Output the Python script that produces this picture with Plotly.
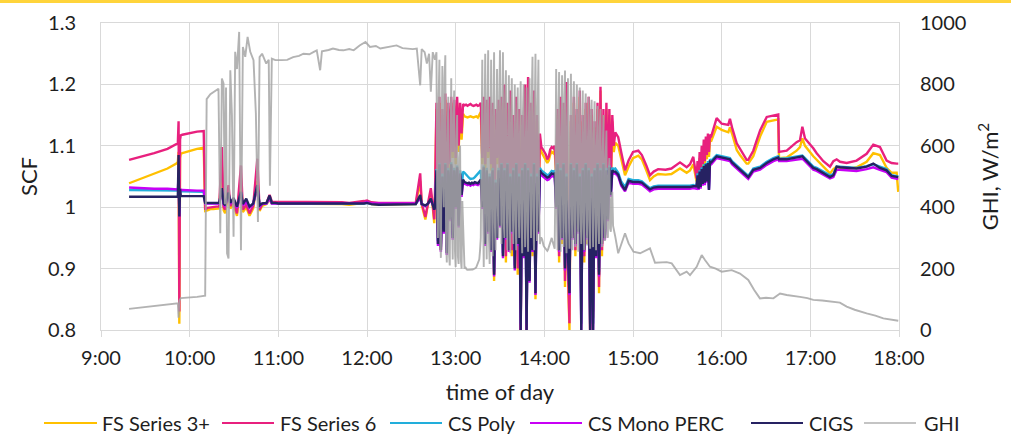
import plotly.graph_objects as go

# ---------------- axis labels ----------------
tick_minutes = [540, 600, 660, 720, 780, 840, 900, 960, 1020, 1080]
tick_labels = ["9:00", "10:00", "11:00", "12:00", "13:00", "14:00", "15:00", "16:00", "17:00", "18:00"]
scf_ticks = [0.8, 0.9, 1.0, 1.1, 1.2, 1.3]
scf_tick_labels = ["0.8", "0.9", "1", "1.1", "1.2", "1.3"]
ghi_ticks = [0, 200, 400, 600, 800, 1000]

# ---------------- SCF sample times (minutes after midnight) ----------------
scf_min_a = [559, 567, 576, 585, 591, 592, 592.5, 593, 593.5, 594, 595, 600, 605, 609.5, 610.5]
scf_min_b = [612, 614, 616, 618, 620, 621.8, 623, 624, 626.3, 627.5, 629.7, 632, 634.7, 636, 638.3,
             640.5, 643, 645.8, 647.3, 649, 652, 654.1, 655.6, 658, 660]
scf_min_c = [663, 668, 673, 678, 683, 688, 693, 698, 703, 708, 713, 718, 720, 723, 728, 733, 738, 743, 748, 753]
scf_min_d = [756, 757, 759.5, 761, 763.2, 764.5, 765.5]
scf_min_e = list(range(766, 888))  # one reading per minute through the cloudy period
scf_min_f = [888, 890, 892, 894.6, 897, 900, 903.6, 906, 909, 911.5, 914, 917, 922, 926, 931.8, 936.3, 938.6,
             940.8, 943, 943.7, 944.4, 945.1, 945.8, 946.5, 947.2, 947.9, 948.6, 949.3, 950, 950.7, 951.4, 952.1,
             953, 956.6, 960, 964.5, 965.6, 967, 970.2, 972.4, 976.9, 978, 981.4, 983.7, 986, 990.5, 995, 998.3,
             998.8, 1004, 1010.7, 1013, 1014.6, 1016.4, 1022, 1024.3, 1028.8, 1033.3, 1035.6, 1037.8, 1040.1,
             1044.6, 1051.3, 1058.1, 1062.6, 1067.1, 1071.6, 1075, 1078.4, 1079.5]
scf_minutes = scf_min_a + scf_min_b + scf_min_c + scf_min_d + scf_min_e + scf_min_f

# ---------------- FS Series 3+ ----------------
fs3 = [
    1.039, 1.046, 1.054, 1.063, 1.071, 1.074, 1.090, 0.810, 1.080, 1.087, 1.088, 1.092, 1.095, 1.097, 0.994,
    0.995, 0.997, 0.997, 0.998, 0.998, 1.066, 0.995, 0.990, 1.025, 0.998, 1.005, 0.986, 1.047, 0.992, 1.000,
    0.986, 0.998, 1.043, 0.994, 1.002, 1.005, 1.012, 1.006, 1.006, 1.006,
    1.006, 1.005, 1.006, 1.005, 1.006, 1.005, 1.006, 1.005, 1.005, 1.004, 1.005, 1.007, 1.008, 1.005, 1.004,
    1.004, 1.004, 1.005, 1.005, 1.005,
    1.043, 1.004, 0.980, 1.002, 1.022, 1.000, 0.974,
    1.01, 1.16, 0.95, 1.17, 0.93, 1.15, 0.99, 1.175, 0.935, 1.16,
    1.06, 1.17, 1.08, 1.165, 1.07, 1.17, 1.09, 1.16, 1.11, 1.152,
    1.148, 1.147, 1.146, 1.147, 1.148, 1.147, 1.146, 1.147, 1.148, 1.146, 1.150, 1.155,
    1.07, 1.17, 1.06, 1.165, 1.08, 1.17, 1.06, 1.16, 0.88, 1.15, 1.07, 1.165,
    1.04, 1.17, 0.95, 1.19, 0.91, 1.16, 0.99, 1.18, 0.92, 1.14, 0.96, 1.17, 0.89, 1.15,
    0.80, 1.14, 0.94, 1.19, 0.80, 1.20, 0.885, 1.16, 0.92, 1.18, 0.85, 1.14, 0.98, 1.11,
    1.090, 1.086, 1.082, 1.078, 1.072, 1.076, 1.086, 1.090, 1.088, 1.092,
    1.05, 1.15, 0.91, 1.17, 0.94, 1.16, 0.87, 1.19, 0.89, 0.80, 1.14, 0.95, 1.17, 0.92, 1.15, 0.97, 1.18, 0.83,
    1.14, 0.91, 1.16, 0.94, 1.17, 0.80, 1.15, 0.82, 1.13, 0.94, 1.16, 0.86, 1.19, 0.92, 1.15, 0.95, 1.16, 0.99,
    1.15, 1.03, 1.14, 1.09,
    1.105, 1.100, 1.078, 1.052, 1.066, 1.080, 1.084, 1.078, 1.060, 1.044,
    1.050, 1.054, 1.053, 1.054, 1.063, 1.056, 1.060, 1.070, 1.042, 1.065,
    1.045, 1.080, 1.052, 1.090, 1.060, 1.100, 1.068, 1.105, 1.078, 1.110,
    1.082, 1.108, 1.108, 1.131, 1.126, 1.122, 1.130, 1.120, 1.093, 1.085,
    1.071, 1.071, 1.083, 1.098, 1.115, 1.139, 1.141, 1.143, 1.080, 1.081,
    1.092, 1.098, 1.112, 1.100, 1.083, 1.077, 1.066, 1.055, 1.062, 1.066,
    1.063, 1.062, 1.065, 1.074, 1.088, 1.085, 1.064, 1.056, 1.056, 1.025,
]

# ---------------- FS Series 6 ----------------
fs6 = [
    1.077, 1.082, 1.088, 1.095, 1.102, 1.104, 1.140, 0.830, 1.110, 1.117, 1.118, 1.121, 1.123, 1.124, 0.996,
    0.999, 1.000, 1.000, 1.001, 1.001, 1.098, 1.000, 0.996, 1.036, 1.002, 1.010, 0.990, 1.068, 0.996, 1.004,
    0.990, 1.002, 1.079, 0.996, 1.005, 1.007, 1.020, 1.009, 1.009, 1.009,
    1.009, 1.008, 1.009, 1.008, 1.009, 1.008, 1.009, 1.008, 1.008, 1.007, 1.008, 1.010, 1.011, 1.008, 1.007,
    1.007, 1.006, 1.007, 1.007, 1.007,
    1.055, 1.007, 0.984, 1.005, 1.031, 1.004, 0.980,
    1.02, 1.17, 0.96, 1.18, 0.94, 1.16, 1.00, 1.185, 0.95, 1.17,
    1.07, 1.18, 1.09, 1.175, 1.08, 1.18, 1.10, 1.17, 1.12, 1.168,
    1.166, 1.167, 1.165, 1.166, 1.168, 1.166, 1.165, 1.166, 1.167, 1.165, 1.166, 1.17,
    1.08, 1.18, 1.07, 1.175, 1.09, 1.18, 1.07, 1.17, 0.89, 1.16, 1.08, 1.175,
    1.05, 1.18, 0.96, 1.20, 0.92, 1.17, 1.00, 1.19, 0.93, 1.15, 0.97, 1.18, 0.90, 1.16,
    0.80, 1.15, 0.95, 1.20, 0.80, 1.212, 0.897, 1.17, 0.93, 1.19, 0.86, 1.15, 0.99, 1.12,
    1.098, 1.094, 1.090, 1.086, 1.078, 1.082, 1.094, 1.098, 1.096, 1.10,
    1.06, 1.16, 0.92, 1.18, 0.95, 1.17, 0.88, 1.204, 0.90, 0.811, 1.15, 0.96, 1.18, 0.93, 1.16, 0.98, 1.19, 0.84,
    1.15, 0.92, 1.17, 0.95, 1.18, 0.80, 1.16, 0.83, 1.14, 0.95, 1.17, 0.87, 1.196, 0.93, 1.16, 0.96, 1.17, 1.00,
    1.16, 1.04, 1.15, 1.10,
    1.122, 1.114, 1.090, 1.060, 1.076, 1.090, 1.092, 1.085, 1.068, 1.052,
    1.058, 1.062, 1.061, 1.063, 1.073, 1.065, 1.070, 1.082, 1.047, 1.075,
    1.050, 1.090, 1.060, 1.100, 1.070, 1.110, 1.075, 1.115, 1.085, 1.120,
    1.090, 1.118, 1.116, 1.145, 1.136, 1.134, 1.144, 1.130, 1.104, 1.095,
    1.077, 1.077, 1.092, 1.109, 1.125, 1.147, 1.150, 1.151, 1.090, 1.092,
    1.106, 1.109, 1.131, 1.112, 1.096, 1.088, 1.075, 1.066, 1.075, 1.078,
    1.074, 1.072, 1.076, 1.087, 1.102, 1.098, 1.076, 1.072, 1.071, 1.071,
]

# ---------------- CS Poly ----------------
cs_poly = [
    1.028, 1.028, 1.027, 1.027, 1.027, 1.027, 1.040, 0.990, 1.027, 1.026, 1.026, 1.026, 1.026, 1.025, 1.006,
    1.006, 1.006, 1.006, 1.006, 1.006, 1.028, 1.005, 1.002, 1.022, 1.006, 1.012, 1.000, 1.024, 1.004, 1.010,
    1.000, 1.005, 1.034, 1.002, 1.005, 1.006, 1.015, 1.006, 1.006, 1.006,
    1.006, 1.006, 1.006, 1.006, 1.006, 1.005, 1.006, 1.005, 1.005, 1.005, 1.005, 1.006, 1.007, 1.005, 1.005,
    1.005, 1.004, 1.005, 1.005, 1.005,
    1.016, 1.005, 1.002, 1.005, 1.012, 1.005, 0.998,
    1.00, 1.062, 0.945, 1.072, 0.935, 1.055, 0.965, 1.072, 0.93, 1.064,
    0.985, 1.073, 0.955, 1.064, 1.005, 1.068, 0.975, 1.06, 1.03, 1.058,
    1.056, 1.053, 1.050, 1.048, 1.046, 1.046, 1.047, 1.049, 1.052, 1.055, 1.058, 1.060,
    1.005, 1.068, 0.945, 1.064, 0.965, 1.055, 0.935, 1.064, 0.895, 1.045, 0.955, 1.064,
    0.975, 1.072, 0.925, 1.064, 0.955, 1.072, 0.935, 1.055, 0.965, 1.064, 0.905, 1.072, 0.945, 1.055,
    0.81, 1.064, 0.925, 1.072, 0.81, 1.064, 0.885, 1.055, 0.935, 1.072, 0.865, 1.055, 0.965, 1.064,
    1.060, 1.058, 1.056, 1.054, 1.052, 1.053, 1.056, 1.059, 1.058, 1.059,
    1.005, 1.072, 0.935, 1.064, 0.955, 1.072, 0.905, 1.055, 0.925, 0.865, 1.072, 0.955, 1.064, 0.945, 1.072,
    0.965, 1.055, 0.81, 1.064, 0.935, 1.072, 0.955, 1.064, 0.81, 1.055, 0.81, 1.064, 0.925, 1.072, 0.895,
    1.064, 0.945, 1.072, 0.955, 1.064, 0.985, 1.068, 1.025, 1.064, 1.062,
    1.063, 1.056, 1.042, 1.033, 1.046, 1.044, 1.044, 1.042, 1.036, 1.031,
    1.034, 1.035, 1.035, 1.035, 1.035, 1.034, 1.035, 1.036, 1.034, 1.055,
    1.032, 1.060, 1.035, 1.065, 1.040, 1.070, 1.042, 1.072, 1.045, 1.075,
    1.030, 1.078, 1.076, 1.085, 1.083, 1.081, 1.080, 1.075, 1.068, 1.062,
    1.052, 1.051, 1.063, 1.064, 1.066, 1.074, 1.080, 1.083, 1.079, 1.080,
    1.083, 1.083, 1.084, 1.080, 1.066, 1.064, 1.058, 1.052, 1.054, 1.066,
    1.066, 1.065, 1.064, 1.067, 1.070, 1.066, 1.062, 1.052, 1.050, 1.050,
]

# ---------------- CS Mono PERC ----------------
cs_mono = [
    1.032, 1.031, 1.030, 1.030, 1.029, 1.029, 1.050, 0.985, 1.030, 1.028, 1.028, 1.027, 1.027, 1.027, 1.006,
    1.006, 1.006, 1.006, 1.006, 1.006, 1.026, 1.004, 1.001, 1.020, 1.006, 1.011, 0.999, 1.022, 1.003, 1.009,
    0.999, 1.005, 1.032, 1.001, 1.005, 1.006, 1.014, 1.006, 1.006, 1.006,
    1.007, 1.007, 1.007, 1.007, 1.007, 1.006, 1.007, 1.006, 1.006, 1.006, 1.006, 1.007, 1.008, 1.006, 1.006,
    1.006, 1.005, 1.006, 1.006, 1.006,
    1.015, 1.005, 1.002, 1.005, 1.011, 1.005, 0.998,
    0.997, 1.057, 0.937, 1.067, 0.927, 1.047, 0.957, 1.067, 0.922, 1.057,
    0.977, 1.067, 0.947, 1.057, 0.997, 1.062, 0.967, 1.052, 1.017, 1.042,
    1.038, 1.037, 1.036, 1.037, 1.035, 1.037, 1.036, 1.038, 1.037, 1.036, 1.039, 1.042,
    0.997, 1.062, 0.937, 1.057, 0.957, 1.047, 0.927, 1.057, 0.887, 1.037, 0.947, 1.057,
    0.967, 1.067, 0.917, 1.057, 0.947, 1.067, 0.927, 1.047, 0.957, 1.057, 0.897, 1.067, 0.937, 1.047,
    0.80, 1.057, 0.917, 1.067, 0.80, 1.057, 0.877, 1.047, 0.927, 1.067, 0.857, 1.047, 0.957, 1.057,
    1.052, 1.050, 1.048, 1.046, 1.044, 1.045, 1.048, 1.051, 1.050, 1.051,
    0.997, 1.067, 0.927, 1.057, 0.947, 1.067, 0.897, 1.047, 0.917, 0.857, 1.067, 0.947, 1.057, 0.937, 1.067,
    0.957, 1.047, 0.80, 1.057, 0.927, 1.067, 0.947, 1.057, 0.80, 1.047, 0.80, 1.057, 0.917, 1.067, 0.887,
    1.057, 0.937, 1.067, 0.947, 1.057, 0.977, 1.062, 1.017, 1.057, 1.055,
    1.055, 1.050, 1.035, 1.026, 1.040, 1.038, 1.038, 1.037, 1.031, 1.026,
    1.029, 1.030, 1.030, 1.030, 1.030, 1.029, 1.030, 1.031, 1.030, 1.048,
    1.028, 1.052, 1.030, 1.058, 1.035, 1.062, 1.036, 1.065, 1.040, 1.068,
    1.028, 1.070, 1.070, 1.080, 1.078, 1.076, 1.075, 1.070, 1.063, 1.057,
    1.047, 1.046, 1.058, 1.059, 1.061, 1.069, 1.075, 1.078, 1.075, 1.075,
    1.078, 1.078, 1.079, 1.075, 1.061, 1.059, 1.053, 1.047, 1.049, 1.061,
    1.061, 1.060, 1.059, 1.062, 1.065, 1.061, 1.057, 1.048, 1.046, 1.046,
]

# ---------------- CIGS ----------------
cigs = [
    1.017, 1.017, 1.017, 1.016, 1.017, 1.017, 1.085, 0.985, 1.030, 1.018, 1.018, 1.018, 1.018, 1.018, 1.007,
    1.007, 1.007, 1.007, 1.007, 1.007, 1.031, 1.006, 1.003, 1.024, 1.007, 1.015, 1.001, 1.025, 1.005, 1.014,
    1.001, 1.006, 1.036, 1.003, 1.006, 1.007, 1.019, 1.007, 1.007, 1.006,
    1.006, 1.006, 1.005, 1.006, 1.006, 1.005, 1.006, 1.005, 1.005, 1.005, 1.005, 1.006, 1.007, 1.005, 1.004,
    1.004, 1.004, 1.005, 1.005, 1.005,
    1.020, 1.005, 1.003, 1.005, 1.014, 1.005, 0.996,
    1.00, 1.06, 0.94, 1.07, 0.93, 1.05, 0.96, 1.07, 0.925, 1.06,
    0.98, 1.07, 0.95, 1.06, 1.00, 1.065, 0.97, 1.055, 1.02, 1.045,
    1.041, 1.040, 1.039, 1.040, 1.038, 1.040, 1.039, 1.041, 1.040, 1.039, 1.042, 1.045,
    1.00, 1.065, 0.94, 1.06, 0.96, 1.05, 0.93, 1.06, 0.89, 1.04, 0.95, 1.06,
    0.97, 1.07, 0.92, 1.06, 0.95, 1.07, 0.93, 1.05, 0.96, 1.06, 0.90, 1.07, 0.94, 1.05,
    0.80, 1.06, 0.92, 1.07, 0.80, 1.06, 0.88, 1.05, 0.93, 1.07, 0.86, 1.05, 0.96, 1.06,
    1.056, 1.054, 1.052, 1.050, 1.048, 1.049, 1.052, 1.055, 1.054, 1.055,
    1.00, 1.07, 0.93, 1.06, 0.95, 1.07, 0.90, 1.05, 0.92, 0.86, 1.07, 0.95, 1.06, 0.94, 1.07, 0.96, 1.05, 0.80,
    1.06, 0.93, 1.07, 0.95, 1.06, 0.80, 1.05, 0.80, 1.06, 0.92, 1.07, 0.89, 1.06, 0.94, 1.07, 0.95, 1.06, 0.98,
    1.065, 1.02, 1.06, 1.058,
    1.058, 1.053, 1.038, 1.028, 1.043, 1.041, 1.041, 1.040, 1.034, 1.029,
    1.032, 1.033, 1.033, 1.033, 1.033, 1.032, 1.033, 1.034, 1.034, 1.052,
    1.030, 1.058, 1.033, 1.062, 1.038, 1.067, 1.040, 1.070, 1.042, 1.072,
    1.028, 1.074, 1.073, 1.083, 1.081, 1.079, 1.078, 1.073, 1.066, 1.060,
    1.050, 1.049, 1.061, 1.062, 1.064, 1.072, 1.078, 1.081, 1.078, 1.078,
    1.081, 1.082, 1.083, 1.078, 1.064, 1.062, 1.056, 1.049, 1.052, 1.066,
    1.065, 1.064, 1.063, 1.066, 1.071, 1.064, 1.060, 1.051, 1.049, 1.049,
]

# ---------------- GHI (W/m2) ----------------
ghi_min_a = [559, 567, 576, 585, 591, 592, 592.5, 593, 594, 600, 605, 610.5, 611.5]
ghi_min_b = [614, 616, 618, 619.5, 620.7, 621.8, 622.9, 623.8, 624.6, 625.3, 626.3, 627.5, 628.6, 629.7, 630.8,
             632, 633.5, 634.7, 636, 637.6, 639.2, 641, 643.2, 644.8, 646.2, 647.3, 649, 651.8, 653.5, 654.3,
             655.6, 658]
ghi_min_c = [662, 666, 670, 674, 677, 681, 684, 686, 688.3, 689.5, 694, 697, 701, 704, 708, 711, 715, 719, 722,
             726, 729, 733, 736, 740, 744, 747, 751, 753.7, 756, 757, 759, 760.5, 762, 763.2, 764.5, 766]
ghi_min_e = [m / 2 for m in range(1534, 1776)]  # one reading every 30 s, 12:47 to 14:47.5
ghi_min_f = [888, 890, 894.6, 897, 900.3, 904.8, 911.5, 914.9, 922.8, 926.2, 931.8, 936.3, 938.6, 943.1, 946.5,
             948.7, 952.1, 956, 960, 966.8, 972.4, 978, 982, 985.9, 990, 995, 999.5, 1004, 1008, 1013, 1018,
             1022, 1028, 1035.6, 1040, 1044.6, 1050, 1058.1, 1064, 1069.4, 1074, 1079.5]
ghi_minutes = ghi_min_a + ghi_min_b + ghi_min_c + ghi_min_e + ghi_min_f

ghi = [
    69, 73, 77, 82, 86, 87, 40, 95, 104, 106, 108, 112, 752,
    768, 775, 782, 786, 315, 819, 803, 410, 790, 250, 233, 846, 700, 304, 906, 850, 971, 260, 922, 890,
    955, 906, 879, 705, 352, 889, 900, 868, 880, 470, 884, 879,
    879, 880, 889, 893, 900, 898, 906, 911, 846, 908, 912, 917, 912, 911, 915, 911, 927, 938, 922, 925,
    917, 920, 922, 927, 918, 917, 915, 917, 797, 915, 905, 868, 900, 776, 905, 880,
    # 12:47 - 14:47.5, every 30 s
    905, 420, 300, 760, 880, 330, 235, 640, 860, 480, 400, 820, 895, 300, 220, 600, 760, 250, 210, 540,
    820, 380, 230, 700, 780, 260, 205, 620, 700, 240, 215, 560, 600, 230, 200, 420, 350, 210, 200, 205,
    198, 197, 196, 196, 195, 195, 195, 195, 196, 197, 198, 199, 200, 202, 205, 210, 215, 222, 230, 260, 300, 600,
    880, 420, 205, 650, 900, 380, 230, 720, 911, 300, 215, 560, 880, 420, 240, 700, 905, 350, 260, 640, 850, 400,
    300, 760,
    911, 500, 280, 700, 905, 350, 300, 760, 846, 420, 260, 620, 830, 380, 250, 700, 820, 450, 280, 600, 800, 360,
    260, 680, 790, 420, 300, 640,
    810, 380, 250, 700, 800, 420, 270, 620, 790, 350, 255, 680, 820, 460, 300, 760, 890, 400, 260, 700, 900, 500,
    290, 720, 880, 420, 280, 300,
    300, 295, 280, 275, 270, 266, 262, 260, 258, 262, 270, 280, 290, 296, 300, 290, 280, 272, 265, 500,
    850, 400, 260, 700, 840, 380, 255, 620, 830, 450,
    270, 760, 845, 350, 250, 680, 820, 420, 265, 600,
    835, 400, 260, 720, 810, 360, 270, 640, 800, 420,
    255, 700, 790, 380, 280, 600, 780, 350, 260, 680,
    770, 400, 275, 620, 760, 360, 265, 700, 750, 420,
    270, 640, 745, 380, 260, 600, 730, 350, 280, 660,
    720, 400, 270, 580, 700, 360, 290, 560, 650, 340,
    300, 500, 560, 330, 320, 420, 450, 340, 330, 320,
    # 14:48 onwards
    304, 250, 315, 282, 255, 250, 266, 219, 221, 217, 179, 190, 179, 206, 244, 228, 206, 200, 190, 195,
    184, 163, 130, 103, 105, 103, 119, 114, 112, 108, 104, 98, 96, 92, 89, 76, 66, 54, 47, 38, 34, 30,
]

for name, arr in [("fs3", fs3), ("fs6", fs6), ("cs_poly", cs_poly), ("cs_mono", cs_mono), ("cigs", cigs)]:
    assert len(arr) == len(scf_minutes), (name, len(arr), len(scf_minutes))
assert len(ghi) == len(ghi_minutes), (len(ghi), len(ghi_minutes))

series_names = ["FS Series 3+", "FS Series 6", "CS Poly", "CS Mono PERC", "CIGS", "GHI"]
series_colors = ["#FFC000", "#E8207E", "#22AEDB", "#C800F5", "#262262", "#A6A6A6"]
scf_series = [fs3, fs6, cs_poly, cs_mono, cigs]

FONT = "Lato"
TEXT = "#1E1E1E"
fig = go.Figure()
for name, vals, color in zip(series_names[:5], scf_series, series_colors[:5]):
    fig.add_trace(go.Scatter(x=scf_minutes, y=vals, name=name, mode="lines",
                             line=dict(color=color, width=2.4), showlegend=False))
fig.add_trace(go.Scatter(x=ghi_minutes, y=ghi, name="GHI", mode="lines", yaxis="y2",
                         line=dict(color=series_colors[5], width=1.9), opacity=0.85, showlegend=False))

# legend drawn below the plot: sample line then label, laid out as in the original
PLOT_L, PLOT_W, PLOT_B, PLOT_H = 101, 798, 330, 307
legend_line_px = [(44, 97), (222, 274), (390, 442), (530, 582), (751, 803), (864, 916)]
legend_text_px = [100, 278, 446, 586, 807, 922]
legend_y_px = 423
ly = (PLOT_B - legend_y_px) / PLOT_H
shapes = [dict(type="rect", xref="paper", yref="paper", x0=-0.14, x1=1.16,
               y0=1.0651, y1=1.08, fillcolor="#FFD43B", line=dict(width=0), layer="above")]
annotations = []
for name, color, (x0, x1), tx in zip(series_names, series_colors, legend_line_px, legend_text_px):
    lc = "#C4C4C4" if name == "GHI" else color
    shapes.append(dict(type="line", xref="paper", yref="paper",
                       x0=(x0 - PLOT_L) / PLOT_W, x1=(x1 - PLOT_L) / PLOT_W, y0=ly, y1=ly,
                       line=dict(color=lc, width=2)))
    annotations.append(dict(text=name, xref="paper", yref="paper", x=(tx - PLOT_L) / PLOT_W, y=ly,
                            xanchor="left", yanchor="middle", showarrow=False,
                            font=dict(family=FONT, size=20, color=TEXT)))

grid = "#D9D9D9"
fig.update_layout(
    width=1011, height=434,
    margin=dict(l=PLOT_L, r=112, t=23, b=104, autoexpand=False),
    paper_bgcolor="white", plot_bgcolor="white",
    font=dict(family=FONT, size=20, color=TEXT),
    showlegend=False,
    xaxis=dict(range=[540, 1080], tickvals=tick_minutes, ticktext=tick_labels,
               showgrid=True, gridcolor=grid, gridwidth=1, zeroline=False,
               showline=True, linecolor=grid, mirror=True,
               ticks="outside", ticklen=6, tickcolor=grid, ticklabelstandoff=4,
               title=dict(text="time of day", font=dict(size=22), standoff=16),
               automargin=False),
    yaxis=dict(range=[0.8, 1.3], tickvals=scf_ticks, ticktext=scf_tick_labels,
               showgrid=True, gridcolor=grid, gridwidth=1, zeroline=False,
               showline=True, linecolor=grid, mirror=True, ticks="", ticklabelstandoff=20,
               title=dict(text="SCF", font=dict(size=22), standoff=4),
               automargin=False),
    yaxis2=dict(range=[0, 1000], tickvals=ghi_ticks, overlaying="y", side="right",
                showgrid=False, zeroline=False, showline=False, ticks="", ticklabelstandoff=20,
                title=dict(text="GHI, W/m<sup>2</sup>", font=dict(size=22), standoff=17),
                automargin=False),
    shapes=shapes,
    annotations=annotations,
)

fig.write_html("out.html", config={"displayModeBar": False},
               post_script="document.body.style.margin='0px';")
